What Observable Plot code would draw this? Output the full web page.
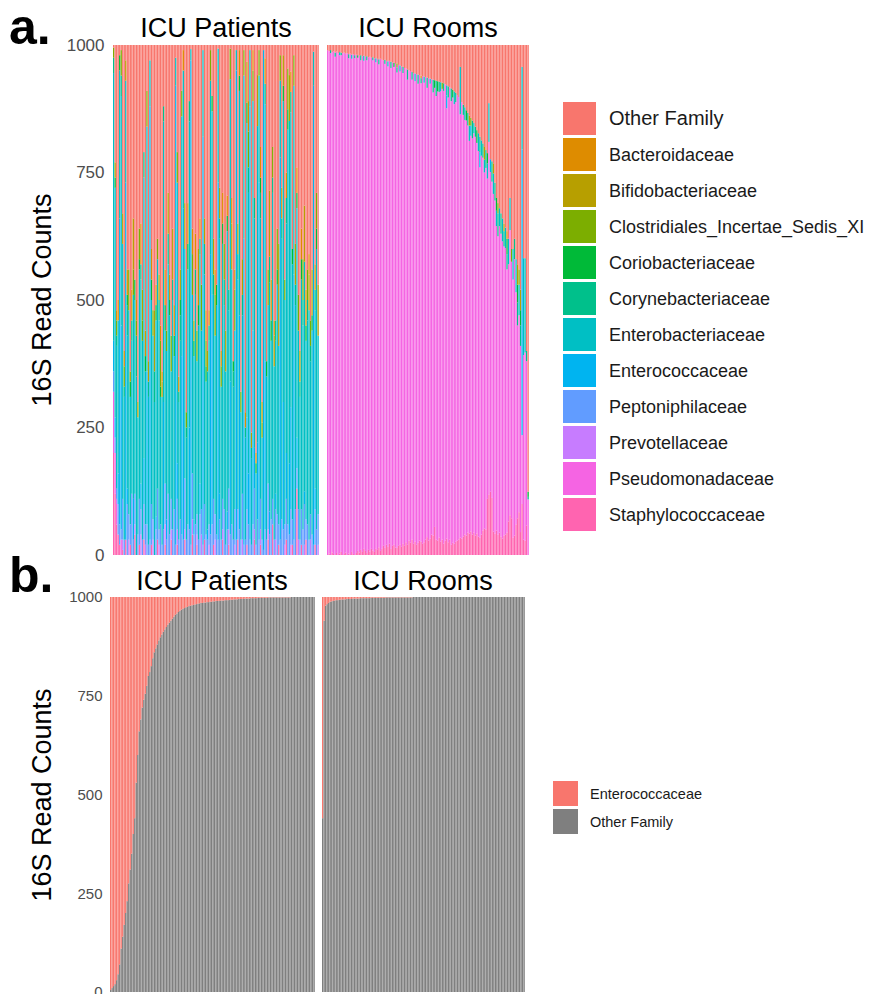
<!DOCTYPE html>
<html><head><meta charset="utf-8">
<script src="https://cdn.jsdelivr.net/npm/d3@7"></script>
<script src="https://cdn.jsdelivr.net/npm/@observablehq/plot@0.6"></script>
<style>
body{margin:0;background:#fff;}
#root{position:relative;width:877px;height:994px;overflow:hidden;font-family:"Liberation Sans",Arial,sans-serif;}
#root > div{position:absolute;}
</style></head>
<body><div id="root"></div>
<script>
// ---------- categories ----------
const families = ["Other Family","Bacteroidaceae","Bifidobacteriaceae","Clostridiales_Incertae_Sedis_XI","Coriobacteriaceae","Corynebacteriaceae","Enterobacteriaceae","Enterococcaceae","Peptoniphilaceae","Prevotellaceae","Pseudomonadaceae","Staphylococcaceae"];
const familyColors = ["#F8766D","#DE8C00","#B79F00","#7CAE00","#00BA38","#00C08B","#00BFC4","#00B4F0","#619CFF","#C77CFF","#F564E3","#FF64B0"];
const facetNames = ["ICU Patients","ICU Rooms"];
const familiesB = ["Enterococcaceae","Other Family"];
const colorsB = ["#F8766D","#7F7F7F"];
const yTicks = [0,250,500,750,1000];
const DEPTH = 1000; // rarefied read depth; "Other Family" = depth minus named families

// ---------- panel a : ICU Patients (136 samples) ----------
const patStaph = [200,120,60,40,20,0,10,0,30,0, 0,20,0,0,40,0,0,20,0,0, 30,0,0,0,0,20,0,0,0,30, 0,0,0,0,20,0,0,0,30,0, 0,0,20,0,0,0,0,30,0,0, 0,0,40,0,0,20,0,0,0,0, 30,0,0,0,0,0,20,0,0,0, 0,0,30,0,0,0,20,0,0,0, 0,0,30,0,0,0,0,0,20,0, 0,0,0,30,0,0,0,20,0,0, 0,0,30,0,0,60,0,0,0,20, 0,0,0,0,30,0,0,0,20,0, 0,130,0,0,20,0,0,30,0,0, 0,0,0,20,0,0];
const patPseudoPairs = [[0,120],[1,80],[2,40],[5,30]];
const patPrevo = [0,0,10,0,0,0,20,0,0,0, 30,0,0,0,20,0,0,0,40,0, 0,20,0,0,0,0,30,0,0,0, 20,0,0,0,40,0,0,0,20,0, 0,0,30,0,0,0,0,20,0,0, 0,0,30,0,0,20,0,0,40,0, 0,0,0,20,0,0,0,30,0,0, 0,0,20,0,0,0,30,0,0,0, 20,0,0,0,0,30,0,0,0,0, 0,0,0,20,0,0,0,30,0,0, 0,0,20,0,0,0,0,30,0,0, 0,0,0,20,0,0,0,20,0,0, 0,0,30,0,0,0,20,0,0,0, 30,0,0,0,0,20];
const patPepto = [40,30,20,60,40,20,80,30,0,100, 50,40,120,30,60,0,40,90,50,30, 70,40,60,20,30,80,40,0,50,100, 30,60,20,50,80,30,120,40,60,50, 90,20,60,30,70,40,30,100,30,60, 50,20,90,40,60,40,30,80,50,20, 70,40,30,40,40,60,90,50,40,30, 70,30,60,90,20,50,80,40,60,30, 70,30,60,50,30,90,20,30,70,60, 30,20,60,80,20,70,30,60,30,10, 50,30,90,40,70,50,30,60,80,40, 30,70,50,40,80,60,40,70,50,30, 90,40,60,30,70,50,80,40,60,30, 50,40,20,70,50,60];
const patEntero = [60,40,0,60,600,400,0,0,700,30, 0,0,0,80,0,0,0,0,50,0, 90,0,300,0,850,0,0,0,25,0, 0,0,0,250,0,40,0,0,0,0, 0,900,70,0,0,350,650,0,0,0, 200,950,0,30,0,0,0,60,0,800, 0,0,20,0,550,450,0,0,0,700, 50,0,0,0,0,35,0,300,0,0, 0,920,0,420,0,0,600,0,180,100, 850,0,380,80,0,150,700,0,0,980, 330,0,0,45,0,0,0,30,0,0, 750,0,250,0,90,0,140,200,0,520, 0,60,0,0,0,0,25,0,0,0, 0,0,900,40,0,0];
const patEnterobact = [525,450,280,300,290,450,500,280,200,300, 400,250,300,400,380,350,230,450,400,390, 550,300,480,290,90,400,360,300,385,450, 410,250,290,550,300,330,450,430,250,450, 300,55,550,270,350,470,270,450,200,500, 600,22,350,320,450,300,420,450,350,170, 450,300,310,360,340,360,400,350,450,263, 500,300,500,400,340,550,350,593,500,300, 350,40,450,440,250,350,320,200,577,550, 110,170,450,450,140,621,210,550,200,0, 504,320,350,450,350,600,340,300,450,350, 150,550,590,440,450,774,671,578,500,370, 400,450,350,280,450,400,450,350,400,450, 300,400,67,350,550,350];
const patCoryne = [30,0,20,0,0,40,0,20,0,60, 0,0,40,0,0,80,0,0,30,0, 50,0,0,30,0,0,0,60,0,0, 40,0,0,30,0,0,60,0,0,40, 0,0,0,20,50,0,0,0,20,0, 40,0,0,0,50,0,0,30,0,0, 60,0,0,30,0,0,40,0,0,0, 40,0,0,50,0,0,40,0,0,30, 0,0,50,0,0,40,0,20,0,50, 0,20,0,40,0,0,0,50,0,0, 40,0,0,50,0,30,0,40,0,0, 0,40,0,0,50,0,0,40,0,0, 40,0,0,30,0,50,0,0,40,0, 30,0,0,40,0,0];
const patCorio = [0,20,0,0,30,0,0,0,0,20, 0,30,0,0,40,0,0,20,0,0, 0,30,0,0,0,40,0,0,30,0, 0,20,0,0,50,0,0,30,0,0, 40,0,0,0,30,0,0,0,0,50, 0,0,0,30,0,0,40,0,0,0, 0,30,0,0,0,30,0,0,40,0, 0,0,40,0,0,30,0,0,0,20, 0,0,0,30,0,0,0,0,40,0, 0,0,0,0,20,0,0,30,0,0, 0,30,0,0,40,0,0,0,30,0, 0,0,30,0,0,40,0,0,30,0, 0,30,0,0,40,0,0,30,0,0, 0,30,0,0,40,0];
const patClost = [20,0,30,0,0,50,0,40,0,0, 80,0,0,50,0,30,0,60,0,40, 0,0,70,0,0,0,50,0,0,40, 0,90,0,0,0,40,0,0,70,0, 0,0,60,0,0,50,0,0,30,0, 0,0,80,0,0,60,0,0,90,0, 0,50,0,0,60,0,0,80,0,0, 0,40,0,70,0,0,0,60,0,0, 80,0,0,0,40,0,50,0,0,70, 0,0,60,0,0,0,50,0,30,0, 0,0,70,0,0,60,0,0,80,0, 50,0,0,40,0,80,0,0,0,60, 0,0,70,0,0,80,0,0,60,0, 50,0,0,0,70,0];
const patBifido = [0,30,0,0,0,0,60,0,40,0, 0,20,0,100,0,0,30,0,0,60, 0,0,0,40,0,0,0,120,0,0, 50,0,30,0,0,0,80,0,0,100, 0,0,0,0,60,0,0,90,0,0, 0,0,0,40,0,0,110,0,0,0, 50,0,40,0,0,0,70,0,0,0, 60,0,0,0,80,0,0,0,90,0, 0,0,60,0,0,70,0,0,80,0, 0,30,0,0,0,100,0,0,40,0, 0,0,0,130,0,0,60,0,0,200, 0,0,60,0,0,0,90,0,0,0, 80,0,0,60,0,0,110,0,0,70, 0,90,0,0,0,100];
const patBactero = [0,0,20,40,0,0,0,30,0,50, 0,0,60,0,0,40,0,0,80,0, 0,50,0,0,0,60,0,0,40,0, 0,30,20,0,70,0,0,50,0,0, 60,0,0,30,0,0,40,0,0,80, 0,0,50,0,70,0,0,40,0,0, 0,60,0,30,0,0,0,50,0,0, 0,30,60,0,0,40,0,0,50,0, 40,0,0,50,0,0,0,30,0,60, 0,0,40,0,20,0,0,60,0,0, 50,0,0,0,80,0,30,0,0,0, 0,60,0,0,50,0,0,40,0,0, 0,50,0,0,60,0,0,70,0,40, 0,0,0,50,0,0];

// ---------- panel a : ICU Rooms (134 samples) ----------
const roomStaph = [0,3,0,5,2,0,4,0,3,6, 0,2,5,0,3,0,6,2,0,4, 8,5,10,6,12,8,4,10,7,12, 9,6,12,10,15,8,12,18,14,20, 16,22,12,18,20,15,14,18,20,16, 22,18,25,20,28,24,30,22,26,20, 24,28,26,22,25,30,35,28,32,40, 38,55,30,28,34,26,30,22,28,32, 25,30,20,24,22,26,28,30,34,32, 36,40,38,44,42,46,40,44,38,42, 36,34,40,48,52,50,110,118,124,112, 46,42,48,40,44,36,32,38,40,44, 66,78,72,34,38,60,72,84,45,100, 30,28,58,0];
const roomPseudo = [990,985,984,981,986,977,983,984,977,974, 984,983,978,984,971,983,967,980,974,977, 967,974,960,972,957,969,966,966,970,963, 961,968,954,963,947,965,959,952,949,949, 942,947,943,948,937,948,932,943,928,942, 923,937,929,912,922,925,902,923,903,923, 900,913,899,917,901,907,881,907,892,893, 869,861,870,881,874,883,884,888,895,844, 872,887,870,873,862,862,874,868,830,856, 827,813,814,798,770,776,777,783,782,766, 756,726,743,731,698,709,628,692,627,620, 662,653,597,585,601,594,583,567,562,516, 504,559,503,506,542,455,378,386,365,135, 362,369,322,109];
const roomCoryne = [0,0,6,0,0,8,0,0,0,5, 0,0,0,0,8,0,0,0,6,0, 0,0,10,0,0,0,8,0,0,0, 6,0,0,0,10,0,0,0,8,0, 0,0,12,0,0,0,10,0,0,0, 12,0,0,20,0,0,15,0,0,0, 18,0,10,0,0,0,20,0,0,0, 25,0,30,0,20,0,0,15,0,0, 22,0,25,0,0,18,0,0,0,0, 20,0,0,25,0,0,35,0,20,0, 0,30,0,28,0,35,0,0,0,40, 0,35,0,45,0,40,0,30,0,30, 0,0,0,0,40,0,45,0,40,0, 0,0,20,5];
const roomEnterobact = [0,0,0,0,0,0,0,0,6,0, 0,0,0,0,0,0,8,0,0,0, 0,0,0,0,10,0,0,0,0,0, 0,0,8,0,0,0,0,0,0,0, 10,0,0,0,0,0,0,0,12,0, 0,0,0,0,0,0,0,0,15,0, 0,0,0,0,12,0,0,0,10,0, 0,0,0,0,0,18,0,0,0,20, 0,0,0,0,25,0,0,0,93,0, 0,25,0,0,30,0,0,20,0,0, 35,0,30,0,25,0,30,76,0,0, 40,0,30,0,35,0,45,0,40,0, 50,63,0,60,0,65,0,60,0,162, 190,185,0,0];
const roomEnteroPairs = [[79,25],[95,20],[101,30],[108,25],[129,560]];
const roomCorioPairs = [[20,5],[44,8],[71,15],[73,20],[83,15],[92,20],[99,25],[106,20],[112,25],[119,30],[126,35],[128,30],[133,10]];
const roomClostPairs = [[46,8],[76,12],[95,15],[113,20],[122,25],[127,30]];
const roomBifidoPairs = [[94,20],[104,25],[110,20],[117,15],[126,40],[128,40]];
const roomBacteroPairs = [[62,5],[119,15]];

// ---------- panel b : Enterococcaceae reads, sorted ----------
const patEnteroSorted = [995,990,985,980,970,955,930,890,860,830, 800,770,725,690,650,600,560,470,400,340, 310,280,260,245,225,200,190,175,155,140, 130,120,110,102,95,88,82,76,70,65, 60,55,50,45,42,38,35,32,30,28, 26,25,23,22,21,20,19,18,17,16, 15,15,14,14,13,13,12,12,11,11, 10,10,10,9,9,9,8,8,8,7, 7,7,6,6,6,5,5,5,5,4, 4,4,4,3,3,3,3,3,2,2, 2,2,2,2,2,1,1,1,1,1, 1,1,1,1,1,1,1,1,1,1, 0,0,0,0,0,0,0,0,0,0, 0,0,0,0,0,0];
const roomEnteroSorted = [560,60,22,18,15,12,11,10,9,8, 8,7,7,6,6,6,5,5,5,5, 4,4,4,4,4,3,3,3,3,3, 3,3,2,2,2,2,2,2,2,2, 2,2,1,1,1,1,1,1,1,1, 1,1,1,1,1,1,1,1,1,1, 0,0,0,0,0,0,0,0,0,0, 0,0,0,0,0,0,0,0,0,0, 0,0,0,0,0,0,0,0,0,0, 0,0,0,0,0,0,0,0,0,0, 0,0,0,0,0,0,0,0,0,0, 0,0,0,0,0,0,0,0,0,0, 0,0,0,0,0,0,0,0,0,0, 0,0,0,0];

// ---------- helpers ----------
const fromPairs = (n, pairs) => { const a = new Array(n).fill(0); for (const [i, v] of pairs) a[i] = v; return a; };
const NP = patEnterobact.length, NR = roomPseudo.length;
const stackOrderA = families.slice().reverse(); // bottom (Staph) -> top (Other)

function rowsA(n, series) {
  const rows = [];
  for (let i = 0; i < n; i++) {
    let sum = 0;
    for (const [f, arr] of series) { const v = arr[i] || 0; sum += v; rows.push({i, family: f, value: v}); }
    rows.push({i, family: "Other Family", value: Math.max(0, DEPTH - sum)});
  }
  return rows;
}
function rowsB(values) {
  const rows = [];
  values.forEach((v, i) => {
    rows.push({i, family: "Other Family", value: DEPTH - v});
    rows.push({i, family: "Enterococcaceae", value: v});
  });
  return rows;
}

const patRowsA = rowsA(NP, [
  ["Staphylococcaceae", patStaph], ["Pseudomonadaceae", fromPairs(NP, patPseudoPairs)], ["Prevotellaceae", patPrevo],
  ["Peptoniphilaceae", patPepto], ["Enterococcaceae", patEntero], ["Enterobacteriaceae", patEnterobact],
  ["Corynebacteriaceae", patCoryne], ["Coriobacteriaceae", patCorio], ["Clostridiales_Incertae_Sedis_XI", patClost],
  ["Bifidobacteriaceae", patBifido], ["Bacteroidaceae", patBactero]
]);
const roomRowsA = rowsA(NR, [
  ["Staphylococcaceae", roomStaph], ["Pseudomonadaceae", roomPseudo], ["Enterococcaceae", fromPairs(NR, roomEnteroPairs)],
  ["Enterobacteriaceae", roomEnterobact], ["Corynebacteriaceae", roomCoryne], ["Coriobacteriaceae", fromPairs(NR, roomCorioPairs)],
  ["Clostridiales_Incertae_Sedis_XI", fromPairs(NR, roomClostPairs)], ["Bifidobacteriaceae", fromPairs(NR, roomBifidoPairs)],
  ["Bacteroidaceae", fromPairs(NR, roomBacteroPairs)]
]);
const patRowsB = rowsB(patEnteroSorted);
const roomRowsB = rowsB(roomEnteroSorted);

const root = document.getElementById("root");
function place(node, left, top) { const d = document.createElement("div"); d.style.left = left + "px"; d.style.top = top + "px"; d.appendChild(node); root.appendChild(d); }

function stackPlot({rows, n, order, domain, range, width, height, marginLeft, marginRight, marginTop, marginBottom, axis, fontSize, tickPadding}) {
  return Plot.plot({
    width, height, marginLeft, marginRight, marginTop, marginBottom,
    style: {fontFamily: "Liberation Sans, Arial, sans-serif", fontSize: fontSize + "px", color: "#4d4d4d", background: "transparent", overflow: "visible"},
    x: {type: "band", domain: d3.range(n), padding: 0, round: false, axis: null},
    y: {domain: [0, DEPTH], axis: null},
    color: {domain, range},
    marks: [
      Plot.barY(rows, {x: "i", y: "value", fill: "family", order, insetLeft: 0, insetRight: 0.22, clip: true}),
      axis ? Plot.axisY({ticks: yTicks, tickSize: 0, tickPadding, tickFormat: d => String(d), label: null, fontSize}) : null
    ]
  });
}

// panel a
place(stackPlot({rows: patRowsA, n: NP, order: stackOrderA, domain: families, range: familyColors,
  width: 320, height: 520, marginLeft: 113, marginRight: 1, marginTop: 5, marginBottom: 5, axis: true, fontSize: 17, tickPadding: 9}), 0, 40);
place(stackPlot({rows: roomRowsA, n: NR, order: stackOrderA, domain: families, range: familyColors,
  width: 202, height: 520, marginLeft: 0, marginRight: 0, marginTop: 5, marginBottom: 5, axis: false, fontSize: 17}), 327, 40);
// panel b
place(stackPlot({rows: patRowsB, n: NP, order: ["Other Family","Enterococcaceae"], domain: familiesB, range: colorsB,
  width: 316, height: 402, marginLeft: 110, marginRight: 1, marginTop: 5, marginBottom: 2, axis: true, fontSize: 15, tickPadding: 8}), 0, 592);
place(stackPlot({rows: roomRowsB, n: NR, order: ["Other Family","Enterococcaceae"], domain: familiesB, range: colorsB,
  width: 203, height: 402, marginLeft: 0, marginRight: 0, marginTop: 5, marginBottom: 2, axis: false, fontSize: 15}), 322, 592);

// ---------- overlay text: labels, facet titles, legends ----------
const svg = d3.create("svg").attr("width", 877).attr("height", 994)
  .style("position", "absolute").style("left", 0).style("top", 0).style("pointer-events", "none")
  .style("font-family", "Liberation Sans, Arial, sans-serif");
const T = (x, y, s, size, opts = {}) => svg.append("text").attr("x", x).attr("y", y).attr("font-size", size)
  .attr("fill", opts.fill || "#000").attr("text-anchor", opts.anchor || "start").attr("font-weight", opts.weight || "normal")
  .attr("transform", opts.rotate ? `rotate(-90 ${x} ${y})` : null).text(s);

T(9, 44, "a.", 50, {weight: "bold"});
T(9, 592, "b.", 50, {weight: "bold"});
T(216, 37, facetNames[0], 27, {anchor: "middle"});
T(428, 37, facetNames[1], 27, {anchor: "middle"});
T(212, 590, facetNames[0], 27, {anchor: "middle"});
T(423, 590, facetNames[1], 27, {anchor: "middle"});
T(51, 300, "16S Read Counts", 27, {anchor: "middle", rotate: true});
T(51, 795, "16S Read Counts", 27, {anchor: "middle", rotate: true});

families.forEach((f, k) => {
  const y0 = 102 + k * 36;
  svg.append("rect").attr("x", 563).attr("y", y0).attr("width", 33).attr("height", 33).attr("fill", familyColors[k]);
  T(609, y0 + 23, f, k === 0 ? 20 : 18, {fill: "#1a1a1a"});
});
familiesB.forEach((f, k) => {
  const y0 = 781 + k * 28;
  svg.append("rect").attr("x", 553).attr("y", y0).attr("width", 25).attr("height", 25).attr("fill", colorsB[k]);
  T(590, y0 + 18, f, 14.5, {fill: "#1a1a1a"});
});
root.appendChild(svg.node());
</script>
</body></html>
